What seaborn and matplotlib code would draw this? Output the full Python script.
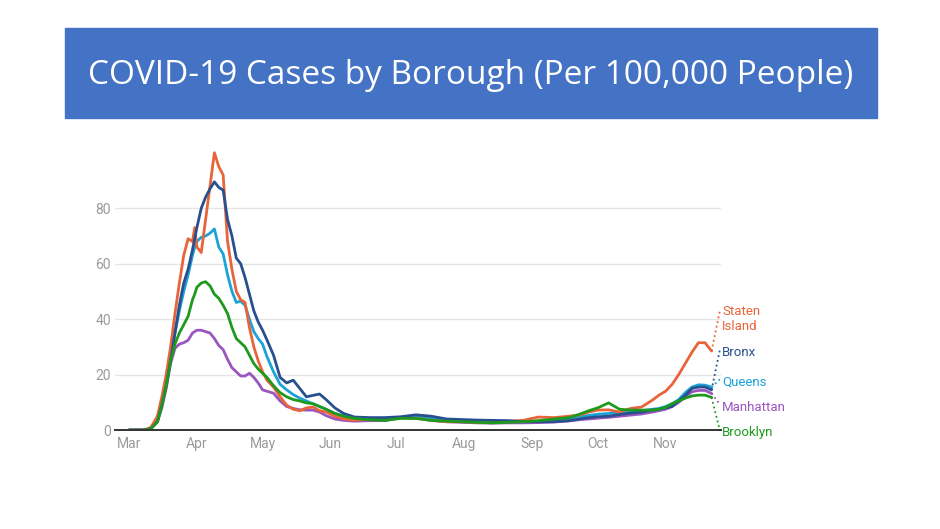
#COVID-19 cases by borough, per 100,000 people
#lines per borough with end labels, slide-style title banner

import numpy as np
import pandas as pd
import matplotlib
matplotlib.use('Agg')
import matplotlib.pyplot as plt
import matplotlib.dates as mdates
import seaborn as sns

days = [0, 7, 10, 13, 15, 17, 19, 21, 23, 25,
        27, 29, 30, 31, 33, 35, 37, 39, 41, 43,
        45, 47, 49, 51, 53, 55, 57, 59, 61, 63,
        66, 69, 72, 75, 78, 81, 84, 87, 90, 94,
        98, 103, 110, 117, 124, 131, 138, 145, 152, 159,
        166, 173, 180, 187, 194, 201, 206, 210, 214, 219,
        224, 229, 234, 239, 242, 245, 248, 251, 254, 257,
        260, 263, 266]

staten = [0, 0, 1, 5, 12, 20, 30, 42, 53, 63,
          69, 68, 73, 66, 64, 76, 88, 100, 95, 92,
          68, 58, 50, 47, 46, 37, 30, 25, 21, 18,
          15.5, 12, 9, 7.5, 7, 8, 8.3, 7, 6.5, 5,
          4, 3.5, 4, 3.8, 4.5, 4.3, 3.5, 3, 3, 2.8,
          3, 3.2, 3.5, 4.7, 4.5, 5, 5.5, 6.5, 7.2, 7.3,
          6.5, 7.8, 8.3, 10.8, 12.6, 14, 16.5, 20, 24, 28,
          31.5, 31.5, 28.5]

bronx = [0, 0, 0.5, 3, 9, 16, 25, 35, 45, 53,
         58, 65, 69, 73, 80, 84, 87, 89.5, 87.5, 86.5,
         76, 70, 62, 60, 55, 49, 43, 39, 36, 32.5,
         27, 19, 17, 18, 15, 12, 12.5, 13, 11, 8,
         6, 4.7, 4.5, 4.5, 4.8, 5.5, 5, 4, 3.8, 3.6,
         3.5, 3.4, 3, 3, 3, 3.4, 4, 4.5, 4.8, 5,
         5.6, 6.1, 6.5, 7.2, 7.5, 8, 8.5, 10.5, 12.5, 15,
         15.5, 15.5, 14.5]

queens = [0, 0, 0.7, 3.5, 10, 17, 26, 35, 43, 50,
          56, 63, 66, 68, 69.5, 70, 71, 72.5, 66, 63.5,
          56, 50, 46, 46.5, 45, 40, 35.5, 33, 31, 26.5,
          21, 16.5, 14.5, 12.8, 11.5, 10.5, 9.5, 8.5, 7.5, 6,
          5, 4.3, 4, 4, 4.5, 4.8, 4.2, 3.5, 3.2, 3,
          3, 3.1, 3, 3.2, 3.5, 4.2, 4.8, 5.3, 5.7, 6,
          6.2, 6.5, 7, 7.5, 7.8, 8.5, 9.5, 11, 13.5, 15.5,
          16.3, 16.2, 15.5]

manhattan = [0, 0, 0.5, 3, 8, 15, 24, 29.5, 31, 31.5,
             32.4, 35, 35.5, 36, 36, 35.5, 35, 33, 30.5, 29,
             25.5, 22.5, 21, 19.5, 19.5, 20.5, 19, 17, 14.5, 14,
             13.3, 10.5, 8.5, 7.8, 7.3, 7.2, 7.2, 6.5, 5.2, 4,
             3.5, 3.2, 3.4, 3.4, 4.5, 4.5, 3.5, 3, 2.8, 2.6,
             2.5, 2.6, 2.6, 2.7, 2.9, 3.3, 3.8, 4, 4.3, 4.6,
             5, 5.4, 5.8, 6.5, 7, 7.5, 8.5, 10, 12, 13.8,
             14.3, 14.3, 13.2]

brooklyn = [0, 0, 0.5, 3, 9, 16, 25, 31, 35, 38,
            41, 47, 49, 51.5, 53, 53.5, 52, 49, 47.5, 45,
            42, 37, 33, 31.5, 30, 27, 24, 22, 20.5, 19,
            16, 13.5, 12, 11, 10.5, 9.8, 9.5, 8.5, 7.5, 6,
            5, 4.2, 3.7, 3.5, 4.2, 4.2, 3.5, 3.2, 3, 2.8,
            2.6, 2.8, 3, 3.4, 4, 4.5, 5.8, 7, 8, 9.8,
            7.5, 7.2, 7.2, 7.2, 7.5, 8.2, 9.5, 10.5, 11.5, 12.3,
            12.6, 12.6, 11.8]

boroughs = ['Manhattan', 'Queens', 'Staten Island', 'Bronx', 'Brooklyn']
labels = {'Staten Island': 'Staten\nIsland', 'Bronx': 'Bronx', 'Queens': 'Queens',
          'Manhattan': 'Manhattan', 'Brooklyn': 'Brooklyn'}
label_y = {'Staten Island': 40, 'Bronx': 28, 'Queens': 17.3,
           'Manhattan': 8.3, 'Brooklyn': -0.7}
colors = {'Staten Island': '#e8643a', 'Bronx': '#28508f', 'Queens': '#1aa3d6',
          'Manhattan': '#9b55bf', 'Brooklyn': '#1d9a1d'}

#make data nice
start = pd.Timestamp('2020-03-01')
dates = start + pd.to_timedelta(days, unit='D')
series = {'Staten Island': staten, 'Bronx': bronx, 'Queens': queens,
          'Manhattan': manhattan, 'Brooklyn': brooklyn}
frames = []
for b in boroughs:
    frames.append(pd.DataFrame({'Date': dates, 'Cases': series[b], 'Borough': b}))
df = pd.concat(frames, ignore_index=True)

sns.set_style("white")
plt.rcParams['font.family'] = ['Roboto', 'DejaVu Sans']

fig = plt.figure(figsize=(9.4, 5.29), dpi=100)
ax = fig.add_axes([0.1223, 0.187, 0.6447, 0.529])

sns.lineplot(data=df, x='Date', y='Cases', hue='Borough', hue_order=boroughs,
             palette=colors, linewidth=2, legend=False, ax=ax)

#end labels with dotted leaders
lab_x = start + pd.Timedelta(days=270.8)
lead_x = start + pd.Timedelta(days=269.8)
for b in boroughs:
    vals = df[df['Borough'] == b]
    x_end = vals['Date'].iloc[-1]
    y_end = vals['Cases'].iloc[-1]
    ly = label_y[b]
    ty = ly + 3 if b == 'Staten Island' else ly + 1
    if b == 'Brooklyn':
        ty = ly + 0.5
    ax.plot([x_end, lead_x], [y_end, ty], ls=':', lw=1.3, color=colors[b], clip_on=False)
    ax.text(lab_x, ly, labels[b], color=colors[b], fontsize=9.5, va='center', ha='left',
            linespacing=1.25)

ax.set_xlim(start - pd.Timedelta(days=6.4), start + pd.Timedelta(days=270.3))
ax.set_ylim(0, 100.9)
ax.set_yticks([0, 20, 40, 60, 80])
ax.xaxis.set_major_locator(mdates.MonthLocator(bymonth=range(3, 12)))
ax.xaxis.set_major_formatter(mdates.DateFormatter('%b'))
ax.yaxis.grid(True, color='#e6e6e6', lw=1)
ax.set_axisbelow(True)
for s in ['top', 'right', 'left']:
    ax.spines[s].set_visible(False)
ax.spines['bottom'].set_color('#333333')
ax.spines['bottom'].set_linewidth(1.4)
ax.tick_params(axis='both', length=0, labelsize=10, labelcolor='#9a9a9a')
ax.tick_params(axis='x', pad=5)
ax.tick_params(axis='y', pad=3)
ax.set_xlabel('')
ax.set_ylabel('')

#title banner
fig.patches.append(plt.Rectangle((65 / 940, 1 - 118 / 529), 812 / 940, 90 / 529,
                                 transform=fig.transFigure, color='#4472c4', zorder=0))
fig.text(471 / 940, 1 - 75 / 529, 'COVID-19 Cases by Borough (Per 100,000 People)',
         color='white', fontsize=24, ha='center', va='center', family=['Open Sans', 'DejaVu Sans'])

plt.savefig('out.png', dpi=100)
